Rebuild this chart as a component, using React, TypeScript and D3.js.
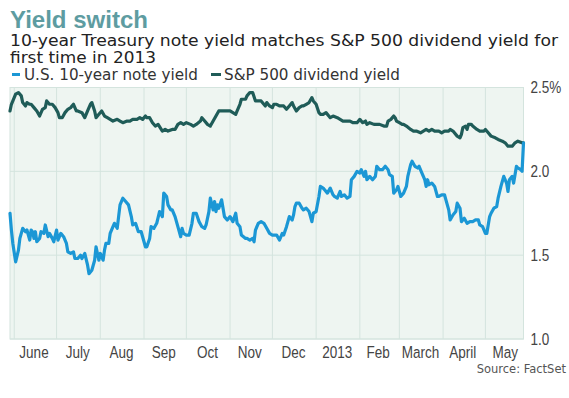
import React from 'react';
import * as d3 from 'd3';

// observation dates are given as days after the first observation
const START_DATE = '2012-05-29';
const END_DATE = '2013-05-28';

const monthStarts = ['2012-06-01','2012-07-01','2012-08-01','2012-09-01','2012-10-01','2012-11-01','2012-12-01','2013-01-01','2013-02-01','2013-03-01','2013-04-01','2013-05-01'];
const monthLabelDates = ['2012-06-15','2012-07-16','2012-08-16','2012-09-15','2012-10-16','2012-11-15','2012-12-16','2013-01-16','2013-02-14','2013-03-16','2013-04-15','2013-05-15'];
const monthLabels = ['June','July','Aug','Sep','Oct','Nov','Dec','2013','Feb','March','April','May'];

const yTicks = [1.0, 1.5, 2.0, 2.5];
const yTickLabels = ['1.0', '1.5', '2.0', '2.5%'];

const seriesNames = ['U.S. 10-year note yield', 'S&P 500 dividend yield'];
const seriesColors = ['#1b97d5', '#1f5c58'];

// U.S. 10-year note yield: [day, %]
const noteYield: [number, number][] = [
  [0,1.75],[1,1.65],[2,1.57],[4,1.46],[6,1.53],[7,1.60],[9,1.66],[11,1.64],[12,1.65],[14,1.59],[15,1.65],[16,1.64],[17,1.60],[18,1.64],[19,1.58],[21,1.60],[22,1.64],[24,1.63],[25,1.68],[27,1.61],[28,1.63],[30,1.60],[31,1.58],[33,1.65],[34,1.59],[36,1.63],[38,1.61],[40,1.57],[41,1.52],[43,1.51],[45,1.52],[46,1.48],[48,1.48],[50,1.50],[51,1.48],[53,1.51],[55,1.44],[56,1.39],[58,1.41],[60,1.47],[61,1.55],[62,1.51],[63,1.47],[64,1.51],[66,1.47],[67,1.53],[68,1.57],[70,1.57],[71,1.63],[73,1.67],[74,1.69],[76,1.66],[77,1.73],[78,1.80],[80,1.84],[82,1.82],[84,1.80],[86,1.73],[87,1.68],[89,1.69],[91,1.64],[93,1.64],[94,1.61],[96,1.55],[97,1.55],[99,1.60],[100,1.67],[102,1.66],[104,1.69],[106,1.76],[108,1.73],[109,1.87],[111,1.85],[112,1.80],[114,1.77],[115,1.77],[117,1.73],[119,1.67],[121,1.61],[122,1.66],[123,1.63],[125,1.62],[127,1.62],[129,1.69],[130,1.75],[132,1.75],[134,1.70],[136,1.67],[138,1.66],[139,1.68],[141,1.76],[142,1.84],[144,1.77],[145,1.82],[146,1.76],[147,1.80],[148,1.78],[150,1.83],[152,1.73],[154,1.71],[156,1.73],[158,1.70],[160,1.75],[161,1.69],[163,1.67],[164,1.62],[167,1.60],[168,1.60],[170,1.59],[172,1.60],[173,1.58],[174,1.65],[176,1.69],[178,1.70],[180,1.69],[182,1.66],[184,1.63],[186,1.62],[189,1.62],[191,1.59],[193,1.63],[194,1.62],[196,1.67],[198,1.73],[200,1.71],[201,1.74],[202,1.79],[203,1.81],[205,1.81],[207,1.78],[208,1.77],[210,1.78],[212,1.76],[214,1.70],[215,1.75],[217,1.76],[219,1.85],[220,1.91],[222,1.90],[223,1.89],[225,1.87],[227,1.90],[229,1.86],[230,1.85],[232,1.84],[234,1.88],[235,1.85],[237,1.86],[239,1.84],[241,1.85],[242,1.95],[244,1.97],[246,2.00],[248,1.99],[249,2.01],[251,1.97],[252,2.00],[253,1.95],[255,1.97],[257,1.95],[259,1.97],[260,2.03],[262,2.01],[264,2.01],[266,2.03],[268,2.01],[269,1.98],[271,1.97],[272,1.87],[274,1.89],[275,1.91],[277,1.85],[279,1.87],[281,1.91],[282,1.97],[284,2.04],[285,2.06],[287,2.03],[289,2.02],[290,2.03],[292,1.99],[294,1.95],[295,1.91],[296,1.95],[297,1.92],[299,1.93],[301,1.91],[303,1.85],[304,1.85],[306,1.86],[308,1.86],[309,1.83],[311,1.77],[312,1.71],[314,1.74],[316,1.76],[317,1.81],[319,1.78],[320,1.70],[322,1.72],[324,1.69],[326,1.70],[328,1.70],[330,1.71],[332,1.71],[333,1.68],[335,1.67],[337,1.63],[338,1.63],[340,1.73],[341,1.75],[343,1.78],[345,1.79],[346,1.84],[348,1.91],[350,1.97],[352,1.93],[353,1.88],[354,1.95],[356,1.97],[357,1.93],[359,2.03],[360,2.02],[362,2.01],[363,2.00],[364,2.17]
];

// S&P 500 dividend yield: [day, %]
const dividendYield: [number, number][] = [
  [0,2.36],[1,2.40],[4,2.46],[6,2.47],[8,2.45],[9,2.41],[11,2.39],[12,2.41],[14,2.40],[15,2.40],[17,2.38],[19,2.36],[21,2.33],[23,2.37],[25,2.38],[26,2.42],[28,2.40],[30,2.40],[32,2.38],[34,2.35],[35,2.32],[37,2.32],[39,2.35],[41,2.37],[43,2.38],[45,2.40],[47,2.36],[48,2.36],[51,2.35],[53,2.32],[55,2.36],[57,2.40],[58,2.41],[60,2.36],[61,2.32],[63,2.34],[65,2.36],[67,2.33],[69,2.32],[71,2.31],[73,2.30],[76,2.31],[78,2.30],[80,2.29],[83,2.30],[85,2.30],[87,2.31],[90,2.31],[92,2.32],[94,2.31],[96,2.33],[97,2.32],[99,2.32],[101,2.29],[103,2.27],[105,2.28],[108,2.24],[110,2.25],[112,2.24],[115,2.25],[117,2.25],[119,2.28],[121,2.29],[123,2.28],[125,2.29],[128,2.28],[130,2.27],[132,2.28],[135,2.30],[136,2.32],[138,2.30],[140,2.28],[142,2.27],[144,2.30],[146,2.33],[148,2.36],[150,2.36],[154,2.36],[156,2.36],[158,2.35],[160,2.34],[161,2.36],[163,2.40],[164,2.43],[167,2.43],[168,2.45],[170,2.47],[172,2.47],[174,2.42],[176,2.42],[178,2.42],[181,2.39],[182,2.41],[184,2.39],[186,2.38],[187,2.40],[189,2.40],[191,2.39],[194,2.39],[196,2.37],[198,2.39],[200,2.41],[201,2.39],[203,2.36],[205,2.38],[207,2.39],[208,2.39],[210,2.40],[212,2.41],[214,2.44],[215,2.42],[217,2.40],[219,2.35],[220,2.34],[222,2.34],[224,2.35],[226,2.33],[227,2.32],[229,2.33],[232,2.32],[234,2.31],[236,2.30],[239,2.30],[241,2.30],[243,2.29],[246,2.29],[248,2.31],[250,2.29],[252,2.30],[253,2.28],[255,2.29],[258,2.28],[260,2.28],[262,2.28],[265,2.27],[267,2.27],[268,2.30],[270,2.31],[272,2.33],[273,2.32],[274,2.30],[276,2.29],[278,2.28],[279,2.28],[281,2.27],[284,2.25],[286,2.24],[288,2.24],[291,2.23],[293,2.24],[295,2.25],[297,2.24],[299,2.25],[301,2.24],[304,2.24],[306,2.23],[308,2.24],[311,2.24],[312,2.25],[314,2.24],[317,2.21],[319,2.20],[320,2.22],[321,2.26],[323,2.27],[324,2.25],[325,2.28],[327,2.28],[328,2.27],[331,2.25],[333,2.24],[336,2.24],[337,2.25],[339,2.23],[341,2.21],[344,2.20],[346,2.19],[349,2.18],[351,2.17],[353,2.15],[356,2.15],[358,2.17],[360,2.18],[363,2.17],[364,2.17]
];

const W = 569;
const H = 398;
const plot = { left: 10, right: 523.5, top: 87.5, bottom: 339 };
const NARROW = 0.82;

const parse = d3.timeParse('%Y-%m-%d');

export default function App() {
  const start = parse(START_DATE)!;
  const end = parse(END_DATE)!;
  const x = d3.scaleTime().domain([start, end]).range([plot.left, plot.right]);
  const y = d3.scaleLinear().domain([1, 2.5]).range([plot.bottom, plot.top]);

  const line = d3
    .line<[number, number]>()
    .x((d) => x(d3.timeDay.offset(start, d[0])))
    .y((d) => y(d[1]));

  const grid = '#d4e4de';
  const sansFont = '"Liberation Sans", Arial, sans-serif';
  const textFont = '"DejaVu Sans", Verdana, sans-serif';

  return (
    <svg
      width={W}
      height={H}
      style={{ position: 'absolute', left: 0, top: 0, background: '#fff' }}
    >
      <text x={10} y={27.5} fontFamily={sansFont} fontWeight="bold" fontSize={24} fill="#5e9ca1" textLength={138} lengthAdjust="spacingAndGlyphs">
        Yield switch
      </text>
      <text x={10} y={45.5} fontFamily={textFont} fontSize={16} fill="#222" textLength={548} lengthAdjust="spacingAndGlyphs">
        10-year Treasury note yield matches S&amp;P 500 dividend yield for
      </text>
      <text x={10} y={62.5} fontFamily={textFont} fontSize={16} fill="#222" textLength={146} lengthAdjust="spacingAndGlyphs">
        first time in 2013
      </text>

      {/* legend */}
      <rect x={12} y={73} width={8} height={3} fill={seriesColors[0]} />
      <text x={24} y={79.5} fontFamily={textFont} fontSize={15.2} fill="#333">
        {seriesNames[0]}
      </text>
      <rect x={211} y={73} width={10} height={3} fill={seriesColors[1]} />
      <text x={224} y={79.5} fontFamily={textFont} fontSize={15.2} fill="#333">
        {seriesNames[1]}
      </text>

      {/* plot background */}
      <rect
        x={plot.left}
        y={plot.top}
        width={plot.right - plot.left}
        height={plot.bottom - plot.top}
        fill="#eef5f1"
        stroke={grid}
        strokeWidth={1}
      />
      {monthStarts.map((m) => {
        const px = x(parse(m)!);
        return <line key={m} x1={px} x2={px} y1={plot.top} y2={plot.bottom} stroke={grid} strokeWidth={1} />;
      })}
      {yTicks.map((t) => (
        <line key={t} x1={plot.left} x2={plot.right} y1={y(t)} y2={y(t)} stroke={grid} strokeWidth={1} />
      ))}

      {/* lines */}
      <path d={line(dividendYield) || ''} fill="none" stroke={seriesColors[1]} strokeWidth={3.2} strokeLinejoin="round" strokeLinecap="round" />
      <path d={line(noteYield) || ''} fill="none" stroke={seriesColors[0]} strokeWidth={3.2} strokeLinejoin="round" strokeLinecap="round" />

      {/* y axis labels (condensed) */}
      {yTicks.map((t, i) => (
        <text
          key={t}
          transform={`translate(530.5,${y(t)}) scale(${NARROW},1)`}
          dy="0.36em"
          fontFamily={sansFont}
          fontSize={16.5}
          fill="#444"
        >
          {yTickLabels[i]}
        </text>
      ))}

      {/* x axis labels (condensed) */}
      {monthLabels.map((lab, i) => (
        <text
          key={lab}
          transform={`translate(${x(parse(monthLabelDates[i])!)},357.5) scale(${NARROW},1)`}
          textAnchor="middle"
          fontFamily={sansFont}
          fontSize={16.5}
          fill="#444"
        >
          {lab}
        </text>
      ))}

      <text x={566} y={373} textAnchor="end" fontFamily={textFont} fontSize={11.5} fill="#555">
        Source: FactSet
      </text>
    </svg>
  );
}
